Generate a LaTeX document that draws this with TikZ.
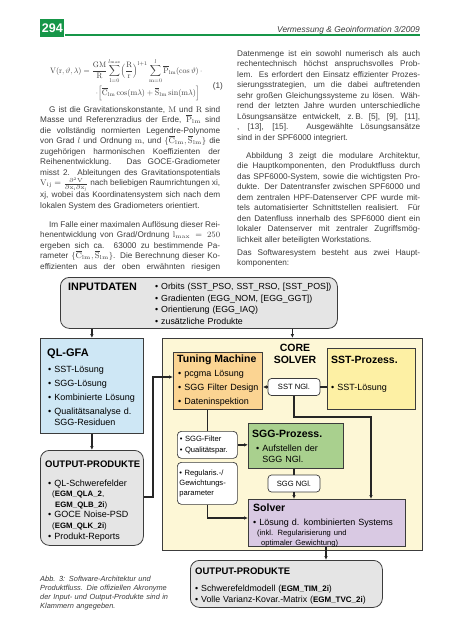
\RequirePackage{fix-cm}
\documentclass[tikz,border=0pt]{standalone}
\usepackage{graphicx}
\usepackage[no-math]{fontspec}
\setmainfont{Liberation Sans}
\usetikzlibrary{arrows.meta}

\definecolor{vgreen}{RGB}{22,150,72}
\definecolor{bodygray}{RGB}{60,60,60}
\definecolor{boxgray}{RGB}{229,229,229}
\definecolor{qlblue}{RGB}{206,231,245}
\definecolor{coreyellow}{RGB}{253,247,214}
\definecolor{tuneorange}{RGB}{251,212,146}
\definecolor{sstyellow}{RGB}{253,240,164}
\definecolor{sggreen}{RGB}{169,208,142}
\definecolor{solvlila}{RGB}{217,201,227}
\definecolor{edgegray}{RGB}{60,60,60}

\tolerance=10000
\lineskiplimit=-20pt

\tikzset{
  body/.style={inner sep=0pt, anchor=base west, text width=#1, align=justify, text=bodygray,
    font=\fontsize{8.2}{10.55}\selectfont},
  box/.style={draw=edgegray, line width=0.8pt, anchor=north west, inner sep=0pt},
  softbox/.style={box, fill=boxgray, rounded corners=9pt},
  tag/.style={draw=edgegray, line width=0.7pt, fill=white, rounded corners=3.5pt, inner sep=0pt,
    font=\fontsize{7.6}{9}\selectfont},
  title/.style={inner sep=0pt, anchor=base west, font=\bfseries\fontsize{10.5}{12}\selectfont},
  items/.style={inner sep=0pt, anchor=base west, align=left, text width=#1,
    font=\fontsize{9}{14}\selectfont},
  flow/.style={line width=1.3pt, draw=black!85, -{Latex[length=4pt,width=3.6pt]}},
  link/.style={line width=1.3pt, draw=black!85},
}

\begin{document}
\begin{tikzpicture}[x=1pt, y=-1pt]
\useasboundingbox (0,0) rectangle (453,640);

% page head
\node[box, draw=none, fill=vgreen, minimum width=24pt, minimum height=18pt,
  font=\bfseries\fontsize{12.5}{14}\selectfont, text=white] (pageno) at (40,19) {294};
\draw[vgreen, line width=1.8pt] (pageno.east |- 0,35.3) -- (420,35.3);
\node[inner sep=0pt, anchor=base east, text=bodygray, font=\itshape\fontsize{8.4}{10}\selectfont]
  (journal) at (420,32) {Vermessung \& Geoinformation 3/2009};

% formula (1)
\node[inner sep=0pt, anchor=base west, text=bodygray] (eqTop) at (50,73)
  {\resizebox{152pt}{!}{$\displaystyle \mathrm{V}(\mathrm{r},\vartheta,\lambda)=\frac{\mathrm{GM}}{\mathrm{R}}
   \sum_{\mathrm{l}=0}^{l_{\max}}\Bigl(\frac{\mathrm{R}}{\mathrm{r}}\Bigr)^{\mathrm{l}+1}
   \sum_{\mathrm{m}=0}^{l}\overline{\mathrm{P}}_{\mathrm{lm}}(\cos\vartheta)\,\cdot$}};
\node[inner sep=0pt, anchor=base east, text=bodygray] (eqBot) at (200,95)
  {\resizebox{104pt}{!}{$\displaystyle\cdot\Bigl[\overline{\mathrm{C}}_{\mathrm{lm}}\cos(\mathrm{m}\lambda)
   +\overline{\mathrm{S}}_{\mathrm{lm}}\sin(\mathrm{m}\lambda)\Bigr]$}};
\node[inner sep=0pt, anchor=base east, text=bodygray, font=\fontsize{8.2}{10}\selectfont] (eqNo) at (223,88) {(1)};

% left column
\node[body=180pt] (paraA) at (40,112) {\hspace*{9pt}G ist die Gravitationskonstante, $\mathrm{M}$ und $\mathrm{R}$ sind\linebreak
Masse und Referenzradius der Erde, $\overline{\mathrm{P}}_{\mathrm{lm}}$ sind\linebreak
die vollständig normierten Legendre-Polynome\linebreak
von Grad $l$ und Ordnung $\mathrm{m}$, und $\{\overline{\mathrm{C}}_{\mathrm{lm}},\overline{\mathrm{S}}_{\mathrm{lm}}\}$ die\linebreak
zugehörigen harmonischen Koeffizienten der\linebreak
Reihenentwicklung. Das GOCE-Gradiometer\linebreak
misst 2. Ableitungen des Gravitationspotentials\linebreak
$\mathrm{V}_{\mathrm{ij}}=\frac{\partial^2\mathrm{V}}{\partial\mathrm{x}_\mathrm{i}\partial\mathrm{x}_\mathrm{j}}$ nach beliebigen Raumrichtungen xi,\linebreak
xj, wobei das Koordinatensystem sich nach dem\linebreak
lokalen System des Gradiometers orientiert.};

\node[body=180pt] (paraB) at (40,227) {\parfillskip=0pt\relax\hspace*{9pt}Im Falle einer maximalen Auflösung dieser Rei-\linebreak
henentwicklung von Grad/Ordnung $\mathrm{l}_{\mathrm{max}}=250$\linebreak
ergeben sich ca. 63000 zu bestimmende Pa-\linebreak
rameter $\{\overline{\mathrm{C}}_{\mathrm{lm}},\overline{\mathrm{S}}_{\mathrm{lm}}\}$. Die Berechnung dieser Ko-\linebreak
effizienten aus der oben erwähnten riesigen\par};

% right column
\node[body=183pt] (paraC) at (237,56) {Datenmenge ist ein sowohl numerisch als auch\linebreak
rechentechnisch höchst anspruchsvolles Prob-\linebreak
lem. Es erfordert den Einsatz effizienter Prozes-\linebreak
sierungsstrategien, um die dabei auftretenden\linebreak
sehr großen Gleichungssysteme zu lösen. Wäh-\linebreak
rend der letzten Jahre wurden unterschiedliche\linebreak
Lösungsansätze entwickelt, z.\,B. [5], [9], [11],\linebreak
[12], [13], [15]. Ausgewählte Lösungsansätze\linebreak
sind in der SPF6000 integriert.};

\node[body=183pt] (paraD) at (237,158) {\hspace*{9pt}Abbildung 3 zeigt die modulare Architektur,\linebreak
die Hauptkomponenten, den Produktfluss durch\linebreak
das SPF6000-System, sowie die wichtigsten Pro-\linebreak
dukte. Der Datentransfer zwischen SPF6000 und\linebreak
dem zentralen HPF-Datenserver CPF wurde mit-\linebreak
tels automatisierter Schnittstellen realisiert. Für\linebreak
den Datenfluss innerhalb des SPF6000 dient ein\linebreak
lokaler Datenserver mit zentraler Zugriffsmög-\linebreak
lichkeit aller beteiligten Workstations.};

\node[body=183pt] (paraE) at (237,255) {Das Softwaresystem besteht aus zwei Haupt-\linebreak
komponenten:};

% input data
\node[softbox, minimum width=277pt, minimum height=51pt] (input) at (60,277) {};
\node[title, font=\bfseries\fontsize{10.8}{12}\selectfont] (inputTitle) at (68,290) {INPUTDATEN};
\node[items=180pt, font=\fontsize{8.8}{11.6}\selectfont] (inputItems) at (155,289.5)
  {\textbullet~Orbits (SST\_PSO, SST\_RSO, [SST\_POS])\\
   \textbullet~Gradienten (EGG\_NOM, [EGG\_GGT])\\
   \textbullet~Orientierung (EGG\_IAQ)\\
   \textbullet~zusätzliche Produkte};

% quick-look branch
\node[box, fill=qlblue, minimum width=103pt, minimum height=95pt] (qlgfa) at (40,338) {};
\node[title, font=\bfseries\fontsize{11}{12}\selectfont] (qlgfaTitle) at (47,356) {QL-GFA};
\node[items=95pt, font=\fontsize{9}{11}\selectfont] (qlgfaItems) at (48,372)
  {\textbullet~SST-Lösung\\[3pt]
   \textbullet~SGG-Lösung\\[3pt]
   \textbullet~Kombinierte Lösung\\[3pt]
   \textbullet~Qualitätsanalyse d.\\
   \phantom{\textbullet~}SGG-Residuen};

\node[softbox, minimum width=103pt, minimum height=95pt] (outL) at (40,450) {};
\node[title, font=\bfseries\fontsize{9.5}{11}\selectfont] (outLTitle) at (45,467.5) {OUTPUT-PRODUKTE};
\node[items=95pt, font=\fontsize{9}{10.6}\selectfont] (outLItems) at (48,486)
  {\textbullet~QL-Schwerefelder\\
   {\fontsize{7.8}{10.6}\selectfont\hspace*{4pt}(\textbf{EGM\_QLA\_2},}\\
   {\fontsize{7.8}{10.6}\selectfont\hspace*{7pt}\textbf{EGM\_QLB\_2i})}\\
   \textbullet~GOCE Noise-PSD\\
   {\fontsize{7.8}{10.6}\selectfont\hspace*{4pt}(\textbf{EGM\_QLK\_2i})}\\
   \textbullet~Produkt-Reports};

% core solver
\node[box, fill=coreyellow, minimum width=260pt, minimum height=212pt] (core) at (162,338) {};
\node[inner sep=0pt, anchor=base, text width=70pt, align=center,
  font=\bfseries\fontsize{10.5}{12}\selectfont] (coreTitle) at (295,351) {CORE\\SOLVER};

\node[box, fill=tuneorange, minimum width=89pt, minimum height=57pt] (tune) at (173,352) {};
\node[title] (tuneTitle) at (177,362) {Tuning Machine};
\node[items=85pt] (tuneItems) at (178,376)
  {\textbullet~pcgma Lösung\\
   \textbullet~SGG Filter Design\\
   \textbullet~Dateninspektion};

\node[box, fill=sstyellow, minimum width=88pt, minimum height=61pt] (sst) at (327,348) {};
\node[title] (sstTitle) at (331,363) {SST-Prozess.};
\node[items=80pt] (sstItems) at (331,390) {\textbullet~SST-Lösung};

\node[tag, minimum width=52pt, minimum height=17pt] (sstngl) at (294,387) {SST NGl.};

\node[tag, anchor=north west, rounded corners=4pt, minimum width=60pt, minimum height=27pt,
  text width=55pt, inner xsep=2.5pt, align=left, font=\fontsize{7.6}{11.5}\selectfont]
  (filt) at (177,431) {\textbullet~SGG-Filter\\ \textbullet~Qualitätspar.};
\node[tag, anchor=north west, rounded corners=4pt, minimum width=60pt, minimum height=42pt,
  text width=56pt, inner xsep=2pt, align=left, font=\fontsize{7.6}{10.2}\selectfont]
  (regul) at (177,462) {\textbullet~Regularis.-/\\ Gewichtungs-\\ parameter};

\node[box, fill=sggreen, minimum width=95pt, minimum height=45pt] (sgg) at (248,423) {};
\node[title] (sggTitle) at (252,437) {SGG-Prozess.};
\node[items=88pt, font=\fontsize{9}{11}\selectfont] (sggItems) at (256,451)
  {\textbullet~Aufstellen der\\ \phantom{\textbullet~}SGG NGl.};

\node[tag, minimum width=52pt, minimum height=17pt] (sggngl) at (294,483.5) {SGG NGl.};

\node[box, fill=solvlila, minimum width=157pt, minimum height=47pt] (solver) at (248,499) {};
\node[title] (solverTitle) at (253,511) {Solver};
\node[items=150pt, font=\fontsize{9}{10}\selectfont] (solverItems) at (253,525)
  {\textbullet~Lösung d. kombinierten Systems\\
   {\fontsize{7.6}{10}\selectfont\hspace*{4pt}(inkl. Regularisierung und}\\
   {\fontsize{7.6}{10}\selectfont\hspace*{8pt}optimaler Gewichtung)}};

\node[softbox, minimum width=192pt, minimum height=47pt] (outR) at (190,560) {};
\node[title, font=\bfseries\fontsize{9.5}{11}\selectfont] (outRTitle) at (195,574.5) {OUTPUT-PRODUKTE};
\node[items=190pt, font=\fontsize{8.8}{11}\selectfont] (outRItems) at (195,591)
  {\textbullet~Schwerefeldmodell ({\fontsize{8}{11}\selectfont\bfseries EGM\_TIM\_2i})\\
   \textbullet~Volle Varianz-Kovar.-Matrix ({\fontsize{8}{11}\selectfont\bfseries EGM\_TVC\_2i})};

% caption
\node[inner sep=0pt, anchor=base west, text width=132pt, align=left, text=bodygray,
  font=\itshape\fontsize{7.4}{9}\selectfont] (caption) at (40,581.5)
  {{\color{black!80}Abb. 3:} Software-Architektur und\\
   Produktfluss. Die offiziellen Akronyme\\
   der Input- und Output-Produkte sind in\\
   Klammern angegeben.};

% product flow
\coordinate (outBend) at (153,497);
\coordinate (nglBend) at (371,417);
\draw[flow] (input.south -| qlgfa.north) -- (qlgfa.north);
\draw[flow] (input.south -| core.north) -- (core.north);
\draw[flow] (qlgfa.south) -- (outL.north);
\draw[flow] (outL.east |- outBend) -- (outBend) |- (tune.west |- 0,377);
\draw[link] (sst.west |- sstngl.east) -- (sstngl.east);
\draw[flow] (sstngl.west) -- (sstngl.west -| tune.east);
\draw[flow] (sstngl.south) |- (nglBend) -- (nglBend |- solver.north);
\draw[link] (filt.north |- tune.south) -- (filt.north);
\draw[flow] (filt.east) -- (filt.east -| sgg.west);
\draw[flow] (regul.south) |- (solver.west |- 0,518);
\draw[link] (sggngl.north |- sgg.south) -- (sggngl.north);
\draw[flow] (sggngl.south) -- (sggngl.south |- solver.north);
\draw[flow] (solver.south -| 326,0) -- (outR.north -| 326,0);

\end{tikzpicture}
\end{document}
